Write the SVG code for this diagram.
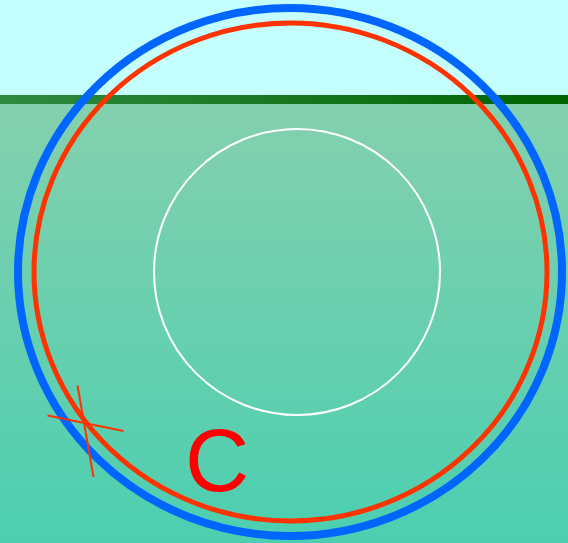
<svg xmlns="http://www.w3.org/2000/svg" width="568" height="543" viewBox="0 0 568 543">
<defs>
<linearGradient id="ground" x1="0" y1="0" x2="0" y2="1">
<stop offset="0" stop-color="#84d0ae"/>
<stop offset="1" stop-color="#4ccfb0"/>
</linearGradient>
<linearGradient id="horizon" x1="0" y1="0" x2="1" y2="0">
<stop offset="0" stop-color="#2f8a40"/>
<stop offset="1" stop-color="#006400"/>
</linearGradient>
<style>
.blue{fill:none;stroke:#0066ff;stroke-width:8}
.red{fill:none;stroke:#ff3300;stroke-width:5}
.white{fill:none;stroke:#ffffff;stroke-width:2}
.cross{stroke:#ff3300;stroke-width:2}
.label{font-family:"Liberation Sans",Arial,sans-serif;font-size:89px;fill:#ff0000}
</style>
</defs>
<g id="background">
<rect x="0" y="0" width="568" height="100" fill="#c4fffe"/>
<rect x="0" y="100" width="568" height="443" fill="url(#ground)"/>
<rect x="0" y="95" width="568" height="9" fill="url(#horizon)"/>
</g>
<g id="outer-ellipse"><ellipse class="blue" cx="290" cy="272" rx="272" ry="264"/></g>
<g id="inner-ellipse"><ellipse class="red" cx="290.5" cy="272" rx="256.5" ry="249"/></g>
<g id="circle"><circle class="white" cx="297" cy="272" r="143"/></g>
<g id="cross">
<line class="cross" x1="47.5" y1="415.5" x2="123.5" y2="431"/>
<line class="cross" x1="77.5" y1="385.5" x2="93.5" y2="477"/>
</g>
<g id="label"><text class="label" x="185" y="491">C</text></g>
</svg>
